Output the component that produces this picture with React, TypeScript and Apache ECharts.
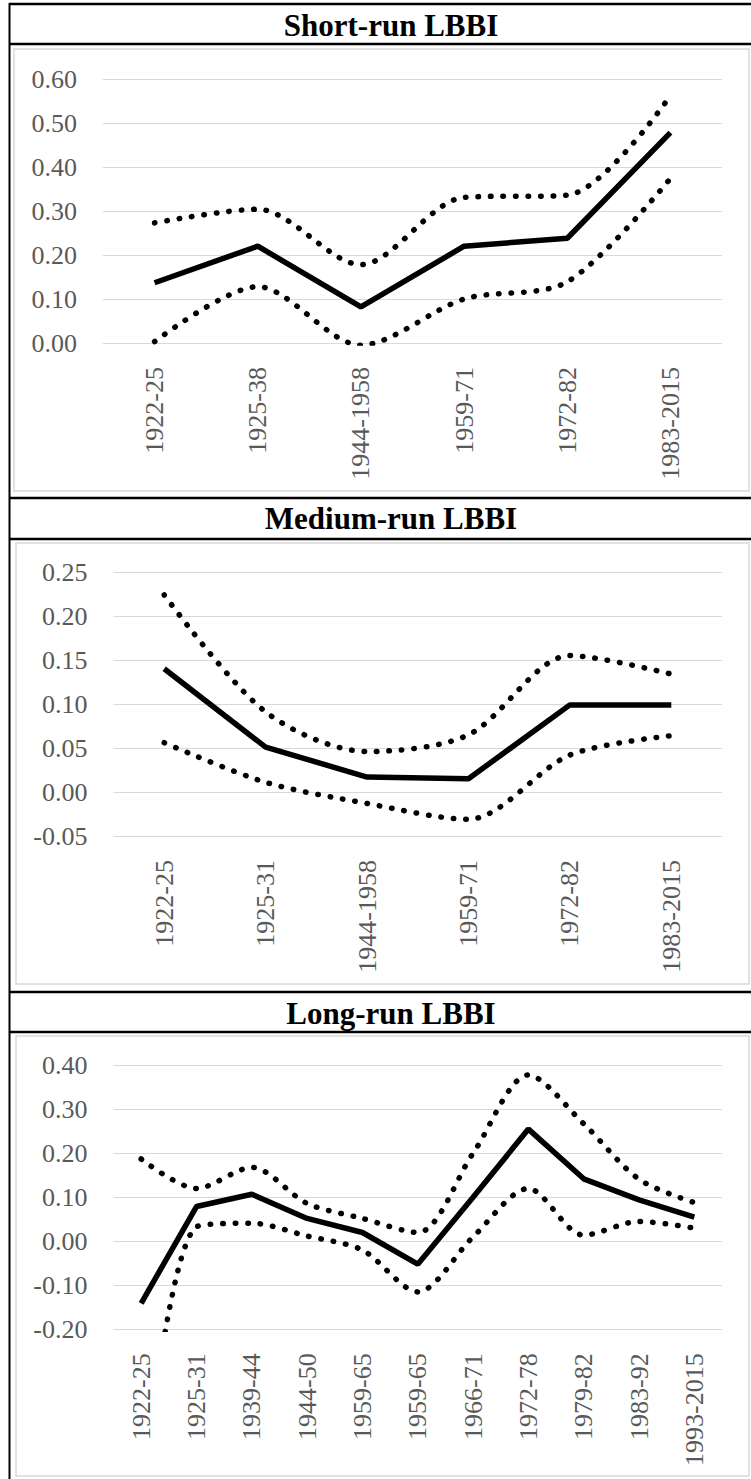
import React, { useEffect, useRef } from "react";
import * as echarts from "echarts";

// ---------- data ----------
const shortCats = ["1922-25", "1925-38", "1944-1958", "1959-71", "1972-82", "1983-2015"];
const shortEstimate = [0.137, 0.22, 0.082, 0.22, 0.238, 0.478];
const shortUpper = [0.273, 0.304, 0.178, 0.331, 0.336, 0.562];
const shortLower = [0.003, 0.128, -0.005, 0.1, 0.139, 0.374];
const shortTicks = { min: 0, max: 0.6, interval: 0.1 };

const mediumCats = ["1922-25", "1925-31", "1944-1958", "1959-71", "1972-82", "1983-2015"];
const mediumEstimate = [0.14, 0.051, 0.017, 0.015, 0.099, 0.099];
const mediumUpper = [0.224, 0.091, 0.046, 0.065, 0.155, 0.134];
const mediumLower = [0.056, 0.011, -0.013, -0.031, 0.042, 0.064];
const mediumTicks = { min: -0.05, max: 0.25, interval: 0.05 };

const longCats = [
  "1922-25", "1925-31", "1939-44", "1944-50", "1959-65", "1959-65",
  "1966-71", "1972-78", "1979-82", "1983-92", "1993-2015",
];
const longEstimate = [-0.141, 0.079, 0.107, 0.052, 0.02, -0.052, 0.1, 0.255, 0.142, 0.094, 0.055];
const longUpper = [0.187, 0.12, 0.168, 0.086, 0.052, 0.02, 0.2, 0.378, 0.267, 0.141, 0.088];
const longLower = [-0.6, 0.033, 0.041, 0.012, -0.02, -0.115, 0.01, 0.12, 0.014, 0.045, 0.03];
const longTicks = { min: -0.2, max: 0.4, interval: 0.1 };

const titles = ["Short-run LBBI", "Medium-run LBBI", "Long-run LBBI"];

// ---------- layout ----------
const FONT = '"Liberation Serif", "Times New Roman", serif';
const LABEL_COLOR = "#595959";
const GRID_RIGHT = 722;
const GRID_H = 264;

const panels = [
  { title: titles[0], cats: shortCats, est: shortEstimate, up: shortUpper, lo: shortLower, ticks: shortTicks,
    gridLeft: 103, gridTop: 79, titleY: 25, box: [14, 49, 749, 491] },
  { title: titles[1], cats: mediumCats, est: mediumEstimate, up: mediumUpper, lo: mediumLower, ticks: mediumTicks,
    gridLeft: 113.5, gridTop: 572, titleY: 518.5, box: [16, 543, 749, 984] },
  { title: titles[2], cats: longCats, est: longEstimate, up: longUpper, lo: longLower, ticks: longTicks,
    gridLeft: 113.5, gridTop: 1065.3, titleY: 1013, box: [16, 1036, 749, 1476] },
];

const blackLinesY = [4, 44, 498, 539, 992, 1032];

function fmt(v: number) {
  if (Math.abs(v) < 1e-9) return "0.00";
  return v.toFixed(2);
}

function buildOption() {
  const grid: any[] = [];
  const xAxis: any[] = [];
  const yAxis: any[] = [];
  const series: any[] = [];
  const graphic: any[] = [];

  panels.forEach((p, i) => {
    grid.push({
      left: p.gridLeft,
      top: p.gridTop,
      width: GRID_RIGHT - p.gridLeft,
      height: GRID_H,
      containLabel: false,
    });
    xAxis.push({
      type: "category",
      gridIndex: i,
      data: p.cats,
      boundaryGap: true,
      axisLine: { show: false },
      axisTick: { show: false },
      axisLabel: {
        interval: 0,
        rotate: 90,
        margin: 24,
        fontSize: 26,
        fontFamily: FONT,
        color: LABEL_COLOR,
      },
    });
    yAxis.push({
      type: "value",
      gridIndex: i,
      min: p.ticks.min,
      max: p.ticks.max,
      interval: p.ticks.interval,
      axisLine: { show: false },
      axisTick: { show: false },
      splitLine: { lineStyle: { color: "#d9d9d9", width: 1 } },
      axisLabel: {
        margin: 26,
        fontSize: 26,
        fontFamily: FONT,
        color: LABEL_COLOR,
        formatter: (v: number) => fmt(v),
      },
    });
    const dotted = {
      color: "#000",
      width: 5.5,
      type: [0.5, 12],
      cap: "round",
    };
    series.push({
      type: "line",
      xAxisIndex: i,
      yAxisIndex: i,
      data: p.up,
      smooth: 0.3,
      symbol: "none",
      silent: true,
      clip: true,
      lineStyle: dotted,
    });
    series.push({
      type: "line",
      xAxisIndex: i,
      yAxisIndex: i,
      data: p.lo,
      smooth: 0.3,
      symbol: "none",
      silent: true,
      clip: true,
      lineStyle: dotted,
    });
    series.push({
      type: "line",
      xAxisIndex: i,
      yAxisIndex: i,
      data: p.est,
      smooth: false,
      symbol: "none",
      silent: true,
      clip: true,
      lineStyle: { color: "#000", width: 5.5 },
    });

    const [x1, y1, x2, y2] = p.box;
    graphic.push({
      type: "rect",
      silent: true,
      shape: { x: x1, y: y1, width: x2 - x1, height: y2 - y1 },
      style: { fill: "none", stroke: "#d9d9d9", lineWidth: 1.5 },
      z: 0,
    });
    graphic.push({
      type: "text",
      silent: true,
      x: 391,
      y: p.titleY,
      style: {
        text: p.title,
        font: `bold 31px ${FONT}`,
        fill: "#000",
        textAlign: "center",
        textVerticalAlign: "middle",
      },
    });
  });

  blackLinesY.forEach((y) => {
    graphic.push({
      type: "line",
      silent: true,
      shape: { x1: 9, y1: y, x2: 751, y2: y },
      style: { stroke: "#000", lineWidth: 2.5 },
    });
  });
  graphic.push({
    type: "line",
    silent: true,
    shape: { x1: 9.5, y1: 3, x2: 9.5, y2: 1479 },
    style: { stroke: "#000", lineWidth: 2 },
  });

  return {
    animation: false,
    backgroundColor: "#fff",
    grid,
    xAxis,
    yAxis,
    series,
    graphic,
  };
}

export default function App() {
  const ref = useRef<HTMLDivElement>(null);
  useEffect(() => {
    const chart = echarts.init(ref.current!, null, { renderer: "svg" });
    chart.setOption(buildOption() as any);
    return () => chart.dispose();
  }, []);
  return (
    <div
      ref={ref}
      style={{ position: "absolute", left: 0, top: 0, width: 751, height: 1479, background: "#fff" }}
    />
  );
}
